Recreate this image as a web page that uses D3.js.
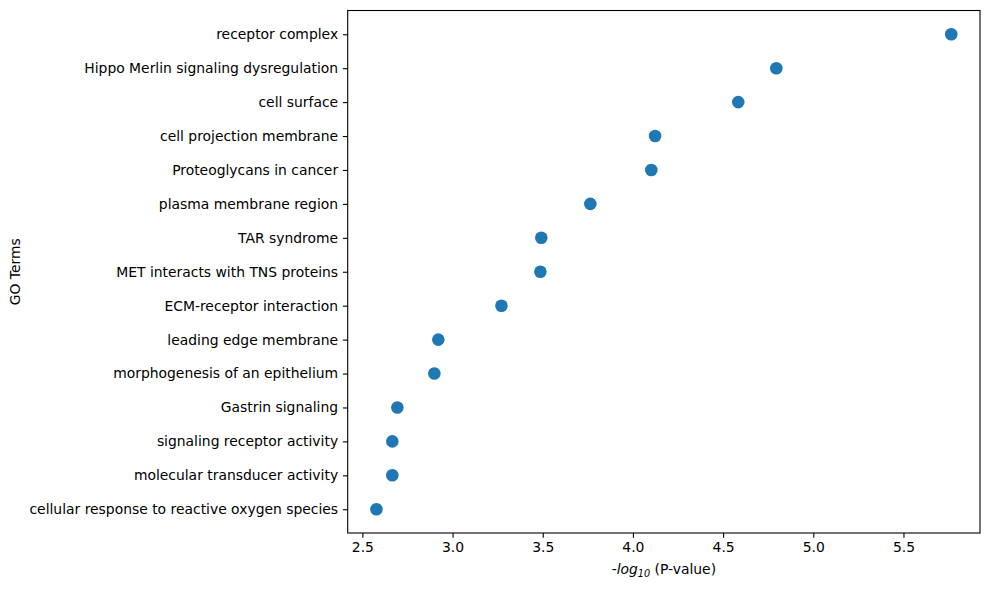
<!DOCTYPE html>
<html><head><meta charset="utf-8">
<script src="https://cdn.jsdelivr.net/npm/d3@7"></script>
<style>body{margin:0;background:#fff}svg{display:block}text{font-family:"DejaVu Sans",sans-serif}</style>
</head><body><svg id="c" width="989" height="590"></svg>
<script>
const terms = ["receptor complex","Hippo Merlin signaling dysregulation","cell surface","cell projection membrane","Proteoglycans in cancer","plasma membrane region","TAR syndrome","MET interacts with TNS proteins","ECM-receptor interaction","leading edge membrane","morphogenesis of an epithelium","Gastrin signaling","signaling receptor activity","molecular transducer activity","cellular response to reactive oxygen species"];
const values = [5.765,4.795,4.584,4.123,4.102,3.764,3.492,3.487,3.271,2.921,2.899,2.694,2.666,2.666,2.578];
const xTicks = [2.5,3.0,3.5,4.0,4.5,5.0,5.5];

const svg = d3.select("#c");
const L=347.7, R=980, T=10.5, B=533;
const vmin=d3.min(values), vmax=d3.max(values), pad=(vmax-vmin)*0.05;
const x = d3.scaleLinear().domain([vmin-pad, vmax+pad]).range([L,R]);
const y = d3.scaleLinear().domain([-0.7, terms.length-1+0.7]).range([T,B]);

const fs = 13.9;
const xa = svg.append("g").attr("transform",`translate(0,${B})`)
  .call(d3.axisBottom(x).tickValues(xTicks).tickFormat(d3.format(".1f")).tickSize(4.8).tickPadding(4.8));
const ya = svg.append("g").attr("transform",`translate(${L},0)`)
  .call(d3.axisLeft(y).tickValues(d3.range(terms.length)).tickFormat(i=>terms[i]).tickSize(4.8).tickPadding(4.8));
[xa,ya].forEach(g=>{
  g.select(".domain").remove();
  g.selectAll(".tick line").attr("stroke","#000").attr("stroke-width",1.1);
  g.selectAll(".tick text").attr("fill","#000").style("font-size",fs+"px").style("font-family","DejaVu Sans");
});

svg.append("rect").attr("x",L).attr("y",T).attr("width",R-L).attr("height",B-T)
  .attr("fill","none").attr("stroke","#000").attr("stroke-width",1.1);

svg.append("g").selectAll("circle").data(values).join("circle")
  .attr("cx",d=>x(d)).attr("cy",(d,i)=>y(i)).attr("r",6.3).attr("fill","#1f77b4");

const xl = svg.append("text").attr("x",(L+R)/2).attr("y",574).attr("text-anchor","middle").style("font-size",fs+"px");
xl.append("tspan").text("-");
xl.append("tspan").attr("font-style","italic").text("log");
xl.append("tspan").attr("font-style","italic").attr("dy",3).style("font-size","9.7px").text("10");
xl.append("tspan").attr("dy",-3).text(" (P-value)");

svg.append("text").attr("transform",`translate(20,${(T+B)/2}) rotate(-90)`).attr("text-anchor","middle")
  .style("font-size",fs+"px").text("GO Terms");
</script></body></html>
